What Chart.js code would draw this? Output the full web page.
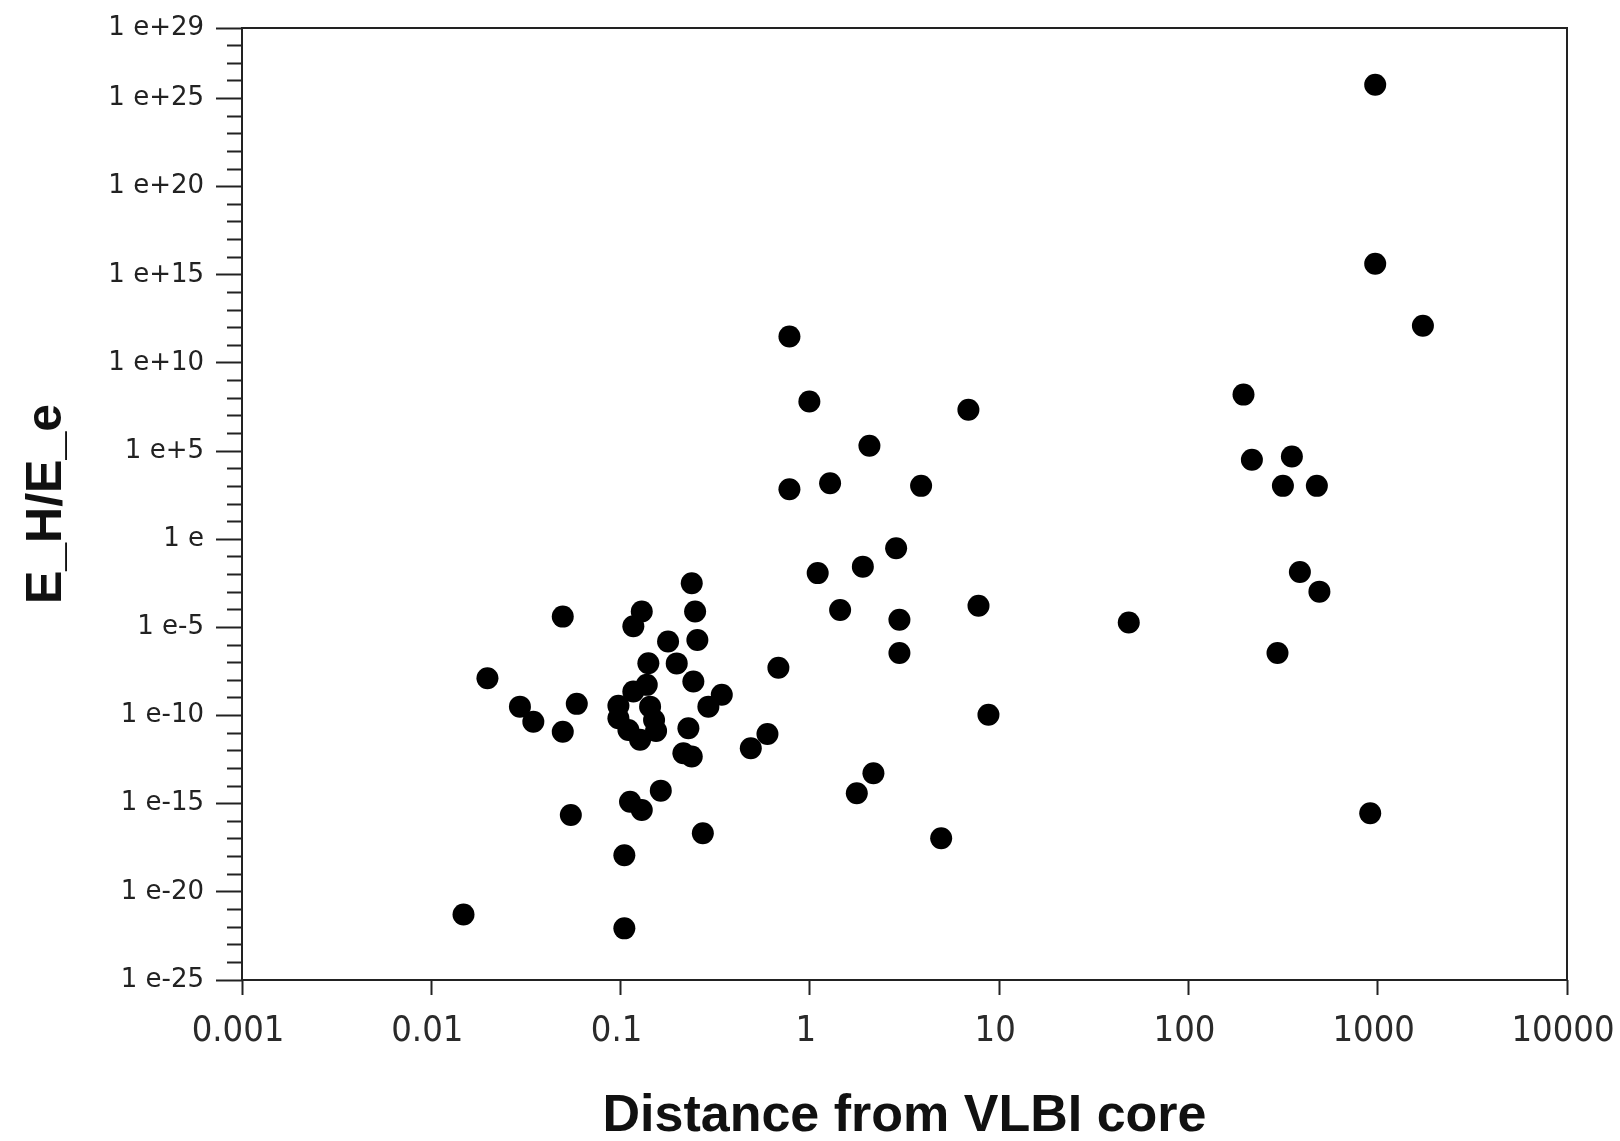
<!DOCTYPE html>
<html>
<head>
<meta charset="utf-8">
<script src="https://cdn.jsdelivr.net/npm/chart.js@4.4.1/dist/chart.umd.min.js"></script>
<style>
  html, body { margin: 0; padding: 0; background: #ffffff; }
  #wrap { width: 1620px; height: 1141px; }
</style>
</head>
<body>
<div id="wrap"><canvas id="c" width="1620" height="1141"></canvas></div>
<script>
// ---- Data ----
const xValues = [
  0.0148, 0.0198, 0.0294, 0.0346, 0.0495, 0.0587, 0.0495, 0.0546,
  0.1047, 0.1047, 0.1122, 0.1294, 0.1631, 0.272, 0.2377, 0.2476,
  0.2545, 0.1294, 0.1168, 0.1782, 0.1402, 0.198, 0.2424, 0.1168,
  0.1375, 0.0974, 0.0974, 0.110, 0.1268, 0.1432, 0.1503, 0.154,
  0.3425, 0.291, 0.2282, 0.2147, 0.2377, 0.4875, 0.597, 0.682,
  0.780, 0.994, 6.88, 2.064, 0.780, 1.279, 3.87, 2.856,
  1.905, 1.10, 1.445, 7.78, 2.973, 2.973, 8.78, 2.167,
  1.770, 4.94, 48.4, 195.4, 216.4, 352, 315.6, 477,
  388, 492, 295.5, 912.8, 970, 970, 1733
];
const yValues = [
  5.2e-22, 1.3e-8, 3.2e-10, 4.5e-11, 4.1e-5, 4.6e-10, 1.2e-11, 2.3e-16,
  1.2e-18, 8.5e-23, 1.3e-15, 4.4e-16, 5.5e-15, 2.1e-17, 3.2e-3, 7.9e-5,
  1.95e-6, 7.9e-5, 1.15e-5, 1.6e-6, 9.3e-8, 9.1e-8, 8.5e-9, 2.3e-9,
  5.5e-9, 3.6e-10, 7.0e-11, 1.5e-11, 4.2e-12, 3.2e-10, 5.6e-11, 1.35e-11,
  1.5e-9, 3.2e-10, 1.9e-11, 7.3e-13, 4.7e-13, 1.4e-12, 9.1e-12, 5.1e-8,
  3.2e11, 6.5e7, 2.2e7, 2.0e5, 690, 1500, 1070, 0.31,
  0.028, 0.012, 9.8e-5, 1.7e-4, 2.7e-5, 3.5e-7, 1.1e-10, 5.4e-14,
  3.9e-15, 1.1e-17, 1.9e-5, 1.6e8, 3.2e4, 4.9e4, 1070, 1070,
  0.0138, 1.07e-3, 3.5e-7, 2.9e-16, 6.0e25, 4.2e15, 1.3e12
];
const xTickValues = [0.001, 0.01, 0.1, 1, 10, 100, 1000, 10000];
const xTickLabels = ["0.001", "0.01", "0.1", "1", "10", "100", "1000", "10000"];
const yMinPower = -25;
const yMaxPower = 29;
const yLabelPowers = [29, 25, 20, 15, 10, 5, 0, -5, -10, -15, -20, -25];
const yTickLabels = ["1 e+29", "1 e+25", "1 e+20", "1 e+15", "1 e+10", "1 e+5", "1 e",
                     "1 e-5", "1 e-10", "1 e-15", "1 e-20", "1 e-25"];
const xTitle = "Distance from VLBI core";
const yTitle = "E_H/E_e";

// ---- Chart ----
const points = xValues.map((x, i) => ({ x: x, y: yValues[i] }));
const powerOf = v => Math.round(Math.log10(v));

const framePlugin = {
  id: 'frame',
  beforeDatasetsDraw(chart) {
    const { ctx, chartArea: a } = chart;
    ctx.save();
    ctx.strokeStyle = '#222';
    ctx.lineWidth = 2;
    ctx.strokeRect(a.left, a.top, a.right - a.left, a.bottom - a.top);
    ctx.restore();
  }
};

new Chart(document.getElementById('c'), {
  type: 'scatter',
  data: {
    datasets: [{
      data: points,
      backgroundColor: '#000000',
      borderColor: '#000000',
      borderWidth: 0,
      pointRadius: 11,
      pointHoverRadius: 11,
      pointStyle: 'circle'
    }]
  },
  options: {
    responsive: false,
    animation: false,
    devicePixelRatio: 1,
    layout: { padding: { top: 28, right: 53, left: 0, bottom: 0 } },
    plugins: { legend: { display: false }, tooltip: { enabled: false } },
    scales: {
      x: {
        type: 'logarithmic',
        min: 0.001,
        max: 10000,
        afterBuildTicks: s => { s.ticks = xTickValues.map(v => ({ value: v })); },
        afterFit: s => { s.height = 161; s.paddingLeft = 0; s.paddingRight = 0; },
        border: { display: false },
        grid: { drawOnChartArea: false, drawTicks: true, tickLength: 15, tickColor: '#222', tickWidth: 2 },
        ticks: {
          autoSkip: false, maxRotation: 0, minRotation: 0, padding: 15, labelOffset: -4,
          color: '#2a2a2a',
          font: { family: '"Liberation Sans Narrow", "DejaVu Sans Condensed", sans-serif', size: 36 },
          callback: (v, i) => xTickLabels[i]
        },
        title: {
          display: true, text: xTitle, color: '#111',
          font: { family: '"Liberation Sans", Arial, sans-serif', size: 52, weight: 'bold', lineHeight: 0.92 },
          padding: { top: 0, bottom: 0 }
        }
      },
      y: {
        type: 'logarithmic',
        min: 1e-25,
        max: 1e29,
        afterBuildTicks: s => {
          const t = [];
          for (let p = yMinPower; p <= yMaxPower; p++) t.push({ value: Number('1e' + p) });
          s.ticks = t;
        },
        afterFit: s => { s.width = 242; s.paddingTop = 0; s.paddingBottom = 0; },
        border: { display: false },
        grid: {
          drawOnChartArea: false, drawTicks: true, tickLength: 26, tickColor: '#222', tickWidth: 2,
          tickBorderDash: ctx => (ctx.tick && yLabelPowers.includes(powerOf(ctx.tick.value))) ? [] : [0, 11, 15, 1000]
        },
        ticks: {
          autoSkip: false, padding: 12, color: '#222',
          font: { family: '"DejaVu Sans", sans-serif', size: 26 },
          callback: v => {
            const k = yLabelPowers.indexOf(powerOf(v));
            return k >= 0 ? yTickLabels[k] : '';
          }
        },
        title: {
          display: true, text: yTitle, color: '#111',
          font: { family: '"Liberation Sans", Arial, sans-serif', size: 50, weight: 'bold', lineHeight: 1 },
          padding: { top: 22, bottom: 0 }
        }
      }
    }
  },
  plugins: [framePlugin]
});
</script>
</body>
</html>
